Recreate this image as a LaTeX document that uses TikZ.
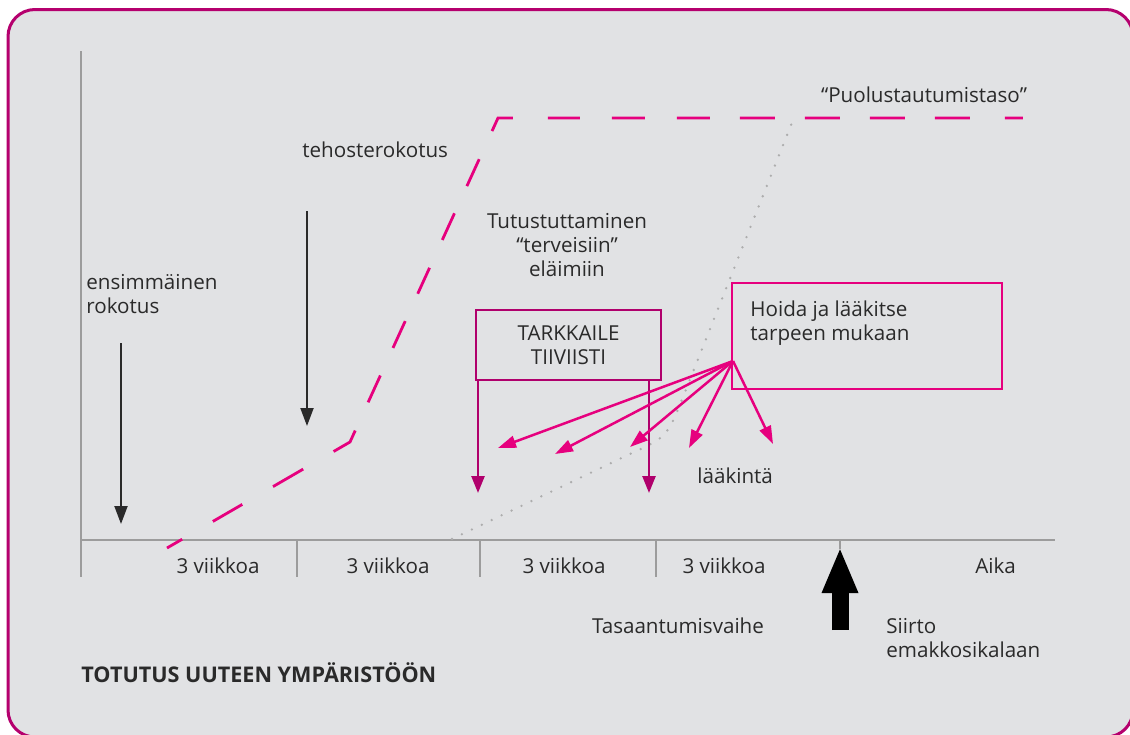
\documentclass[tikz,border=0pt]{standalone}
\usepackage{fontspec}
\setmainfont{Open Sans}
\usetikzlibrary{arrows.meta}
\definecolor{bggray}{HTML}{E1E2E4}
\definecolor{framecol}{HTML}{B5006E}
\definecolor{pinkcol}{HTML}{E6007E}
\definecolor{darkmag}{HTML}{B0006C}
\definecolor{axisgray}{HTML}{9C9C9C}
\definecolor{dotgray}{HTML}{ADADAD}
\definecolor{txt}{HTML}{2A2A2A}
\begin{document}
\begin{tikzpicture}[x=0.5pt,y=-0.5pt,
  lbl/.style={inner sep=0pt, text=txt, font=\fontsize{10.3}{12}\selectfont},
  axisline/.style={draw=axisgray, line width=1pt},
  blackarrow/.style={draw=txt, line width=1pt, -{Triangle[length=9pt,width=6.5pt]}},
  tarkarrow/.style={draw=darkmag, line width=1.25pt, -{Triangle[length=8.5pt,width=6.5pt]}},
  hoidaarrow/.style={draw=pinkcol, line width=1.25pt, -{Triangle[length=9pt,width=6pt]}},
  bigarrow/.style={draw=black, line width=8.5pt, -{Triangle[length=23pt,width=16.5pt]}},
  levelline/.style={draw=pinkcol, line width=1.4pt, line join=miter,
    dash pattern=on 8.75pt off 17.75pt on 17pt off 17.75pt on 17.45pt off 17.55pt on 15.8pt off 15.5pt
      on 14.75pt off 15.15pt on 14.75pt off 15.05pt on 14.25pt off 15.3pt on 14.65pt off 14.95pt
      on 14.8pt off 15.45pt on 14.6pt off 17.5pt on 16pt off 16pt on 16.5pt off 16pt on 16.5pt off 15pt
      on 17.5pt off 15pt on 17.5pt off 15pt on 17.5pt off 15pt on 17.5pt off 17.5pt on 9pt off 20pt},
  dotline/.style={draw=dotgray, line width=1.3pt, line cap=round, dash pattern=on 0pt off 5.5pt},
  boxtark/.style={draw=darkmag, line width=1.25pt, inner sep=0pt, minimum width=92.5pt, minimum height=35pt,
    text=txt, font=\fontsize{10.3}{12}\selectfont, align=center},
  boxhoida/.style={draw=pinkcol, line width=1.25pt, inner sep=0pt, minimum width=135pt, minimum height=53pt}
]
\useasboundingbox (0,0) rectangle (1130,734);
\fill[white] (0,0) rectangle (1130,734);
\draw[framecol, line width=1.5pt, fill=bggray, rounded corners=13.5pt] (8,9.5) rectangle (1133,737);

% axes
\coordinate (ytop) at (81,51);
\coordinate (ybot) at (81,577);
\coordinate (xend) at (1055,540);
\coordinate (orig) at (81,540);
\draw[axisline] (ytop) -- (ybot);
\draw[axisline] (orig) -- (xend);
\foreach \tx in {297,480,656}{
  \draw[axisline] (\tx,540) -- (\tx,577);
}
\draw[axisline] (840,540) -- (840,549);

% dotted curve
\coordinate (d0) at (452,539);
\coordinate (d1) at (630,454);
\coordinate (dc) at (667,437);
\coordinate (d2) at (683,397);
\coordinate (d3) at (793,120);
\draw[dotline] (d0) -- (d1) .. controls (dc) .. (d2) -- (d3);

% dashed level line
\coordinate (l0) at (167,548);
\coordinate (l1) at (350,442);
\coordinate (l2) at (498,118);
\coordinate (l3) at (1025,118);
\draw[levelline] (l0) -- (l1) -- (l2) -- (l3);

% labels
\node[lbl, anchor=base] (puol) at (924,102) {“Puolustautumistaso”};
\node[lbl, anchor=base west] (tehoste) at (302,157) {tehosterokotus};
\node[lbl, anchor=base west, align=left] (ensim) at (86,313) {ensimmäinen\\rokotus};
\node[lbl, anchor=base, align=center] (tutus) at (567,276) {Tutustuttaminen\\“terveisiin”\\eläimiin};

% black arrows
\coordinate (a1s) at (121,343);
\coordinate (a1e) at (121,524);
\coordinate (a2s) at (307,211);
\coordinate (a2e) at (307,426);
\draw[blackarrow] (a1s) -- (a1e);
\draw[blackarrow] (a2s) -- (a2e);

% TARKKAILE box
\node[boxtark] (tark) at (568.5,345) {TARKKAILE\\TIIVIISTI};
\coordinate (tk1) at (478,493);
\coordinate (tk2) at (649,493);
\draw[tarkarrow] (tark.south -| tk1) -- (tk1);
\draw[tarkarrow] (tark.south -| tk2) -- (tk2);

% Hoida box
\node[boxhoida] (hoida) at (867,336) {};
\node[lbl, anchor=base west, align=left] (hoidatxt) at (750,340) {Hoida ja lääkitse\\tarpeen mukaan};
\coordinate (hsrc) at (733,361);
\coordinate (h1) at (498,448);
\coordinate (h2) at (555,454);
\coordinate (h3) at (630,447);
\coordinate (h4) at (689,448);
\coordinate (h5) at (773,444);
\foreach \t in {h1,h2,h3,h4,h5}{
  \draw[hoidaarrow] (hsrc) -- (\t);
}
\node[lbl, anchor=base west] (laak) at (697,483) {lääkintä};

% axis labels
\node[lbl, anchor=base] (w1) at (218,573) {3 viikkoa};
\node[lbl, anchor=base] (w2) at (388,573) {3 viikkoa};
\node[lbl, anchor=base] (w3) at (564,573) {3 viikkoa};
\node[lbl, anchor=base] (w4) at (724,573) {3 viikkoa};
\node[lbl, anchor=base west] (aika) at (975,573) {Aika};
\node[lbl, anchor=base] (tasa) at (678,633) {Tasaantumisvaihe};
\node[lbl, anchor=base west, align=left] (siirto) at (886,657) {Siirto\\emakkosikalaan};

% big arrow
\coordinate (bigs) at (840,630);
\coordinate (bige) at (840,547);
\draw[bigarrow] (bigs) -- (bige);

\node[lbl, anchor=base west, font=\fontsize{10.8}{13}\selectfont\bfseries] (totutus) at (81,682) {TOTUTUS UUTEEN YMPÄRISTÖÖN};
\end{tikzpicture}
\end{document}
